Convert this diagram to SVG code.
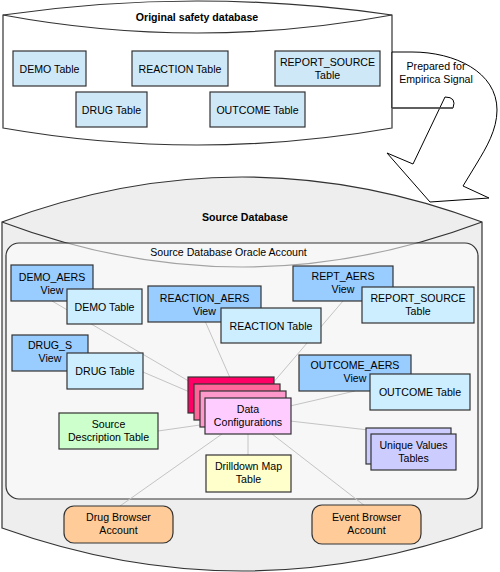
<svg xmlns="http://www.w3.org/2000/svg" width="500" height="572" viewBox="0 0 500 572">
<style>
text{font-family:"Liberation Sans",Arial,sans-serif;font-size:10.6px;fill:#000;text-anchor:middle}
.b{font-weight:bold}
.box{stroke:#333;stroke-width:1.2}
.tbl{fill:#cceeff}
.tbl0{fill:#cfe8f8}
.view{fill:#99ccff}
.cyl{stroke:#333;stroke-width:1.2}
.con line{stroke:#c4c4c4;stroke-width:1}
</style>
<rect width="500" height="572" fill="#fff"/>
<!-- Original safety database cylinder -->
<g id="original-db">
<path class="cyl" d="M3,15 Q197,-13 392,15 L392,128 Q197,162 3,128 Z" fill="#fff"/>
<path class="cyl" d="M3,15 Q197,51 392,15" fill="none"/>
<text class="b" x="197" y="21">Original safety database</text>
</g>
<g id="o-demo"><rect class="box tbl0" x="13" y="51" width="73" height="35"/><text x="49.5" y="72.5">DEMO Table</text></g>
<g id="o-reaction"><rect class="box tbl0" x="132" y="51" width="96" height="35"/><text x="180" y="72.5">REACTION Table</text></g>
<g id="o-report"><rect class="box tbl0" x="275" y="51" width="105" height="35"/><text x="327.5" y="66">REPORT_SOURCE</text><text x="327.5" y="79">Table</text></g>
<g id="o-drug"><rect class="box tbl0" x="76" y="92" width="71" height="35"/><text x="111.5" y="113.5">DRUG Table</text></g>
<g id="o-outcome"><rect class="box tbl0" x="210" y="92" width="95" height="35"/><text x="257.5" y="113.5">OUTCOME Table</text></g>
<!-- Source database cylinder -->
<g id="source-db">
<path class="cyl" d="M2,222 Q242,132 482,222 L482,528 Q242,614 2,528 Z" fill="#eeeeee"/>
<path class="cyl" d="M2,222 Q242,312 482,222" fill="none"/>
<text class="b" x="245" y="221">Source Database</text>
</g>
<!-- Curved arrow -->
<g id="arrow">
<path d="M392,52 L412,52 C455,52 497,72 497,110 C497,130 486,148 477,163 L463,186 L489,198 L430,202 L387,153 L413,164 L445,97 Q457,97 453,108 L392,108 Z" fill="#fff" stroke="#000" stroke-width="1"/>
<line x1="392" y1="108" x2="453" y2="108" stroke="#555" stroke-width="1.5"/>
<text x="436" y="70">Prepared for</text>
<text x="436" y="83">Empirica Signal</text>
</g>
<g id="oracle-account">
<rect x="6" y="243" width="472" height="256" rx="13" fill="#fff" fill-opacity="0.55" stroke="#333" stroke-width="1.2"/>
<text x="228.5" y="256">Source Database Oracle Account</text>
</g>
<!-- Connectors -->
<g id="connectors" class="con">
<line x1="52" y1="301" x2="192" y2="383"/>
<line x1="143" y1="372" x2="192" y2="393"/>
<line x1="205" y1="321" x2="231" y2="380"/>
<line x1="343" y1="301" x2="272" y2="384"/>
<line x1="355" y1="391" x2="290" y2="406"/>
<line x1="290" y1="421" x2="412" y2="435"/>
<line x1="158" y1="431" x2="207" y2="424"/>
<line x1="248" y1="434" x2="248" y2="455"/>
<line x1="120" y1="506" x2="222" y2="434"/>
<line x1="365" y1="506" x2="272" y2="434"/>
</g>
<!-- Nodes -->
<g id="demo-aers"><rect class="box view" x="11" y="265" width="82" height="36"/><text x="52" y="280.5">DEMO_AERS</text><text x="52" y="293.5">View</text></g>
<g id="demo-table"><rect class="box tbl" x="67" y="289" width="75" height="35"/><text x="104.5" y="310.5">DEMO Table</text></g>
<g id="reaction-aers"><rect class="box view" x="148" y="286" width="113" height="36"/><text x="204.5" y="301.5">REACTION_AERS</text><text x="204.5" y="314.5">View</text></g>
<g id="reaction-table"><rect class="box tbl" x="221" y="308" width="100" height="35"/><text x="271" y="329.5">REACTION Table</text></g>
<g id="rept-aers"><rect class="box view" x="293" y="266" width="100" height="35"/><text x="343" y="280">REPT_AERS</text><text x="343" y="293">View</text></g>
<g id="report-source"><rect class="box tbl" x="362" y="287" width="112" height="36"/><text x="418" y="302">REPORT_SOURCE</text><text x="418" y="315">Table</text></g>
<g id="drug-s"><rect class="box view" x="12" y="335" width="76" height="36"/><text x="50" y="349">DRUG_S</text><text x="50" y="362">View</text></g>
<g id="drug-table"><rect class="box tbl" x="67" y="353" width="76" height="36"/><text x="105" y="375">DRUG Table</text></g>
<g id="outcome-aers"><rect class="box view" x="299" y="355" width="112" height="36"/><text x="355" y="369">OUTCOME_AERS</text><text x="355" y="382">View</text></g>
<g id="outcome-table"><rect class="box tbl" x="370" y="374" width="100" height="36"/><text x="420" y="396">OUTCOME Table</text></g>
<g id="data-config">
<rect class="box" x="188" y="377" width="86" height="36" fill="#ff0066"/>
<rect class="box" x="194" y="384" width="86" height="36" fill="#ff6699"/>
<rect class="box" x="200" y="391" width="86" height="36" fill="#ff99cc"/>
<rect class="box" x="205" y="398" width="86" height="36" fill="#ffccff"/>
<text x="248" y="413">Data</text><text x="248" y="426">Configurations</text>
</g>
<g id="source-desc"><rect class="box" x="59" y="413" width="99" height="36" fill="#ccffcc"/><text x="108.5" y="428">Source</text><text x="108.5" y="441">Description Table</text></g>
<g id="unique-values">
<rect class="box" x="366" y="428" width="85" height="36" fill="#ccccff"/>
<rect class="box" x="371" y="434" width="85" height="36" fill="#ccccff"/>
<text x="413.5" y="449">Unique Values</text><text x="413.5" y="462">Tables</text>
</g>
<g id="drilldown"><rect class="box" x="206" y="455" width="85" height="37" fill="#ffffcc"/><text x="248.5" y="470">Drilldown Map</text><text x="248.5" y="483">Table</text></g>
<g id="drug-browser"><rect class="box" x="64" y="506" width="109" height="37" rx="10" fill="#ffcc99"/><text x="118.5" y="521">Drug Browser</text><text x="118.5" y="534">Account</text></g>
<g id="event-browser"><rect class="box" x="312" y="505" width="109" height="39" rx="10" fill="#ffcc99"/><text x="366.5" y="521">Event Browser</text><text x="366.5" y="534">Account</text></g>
</svg>
